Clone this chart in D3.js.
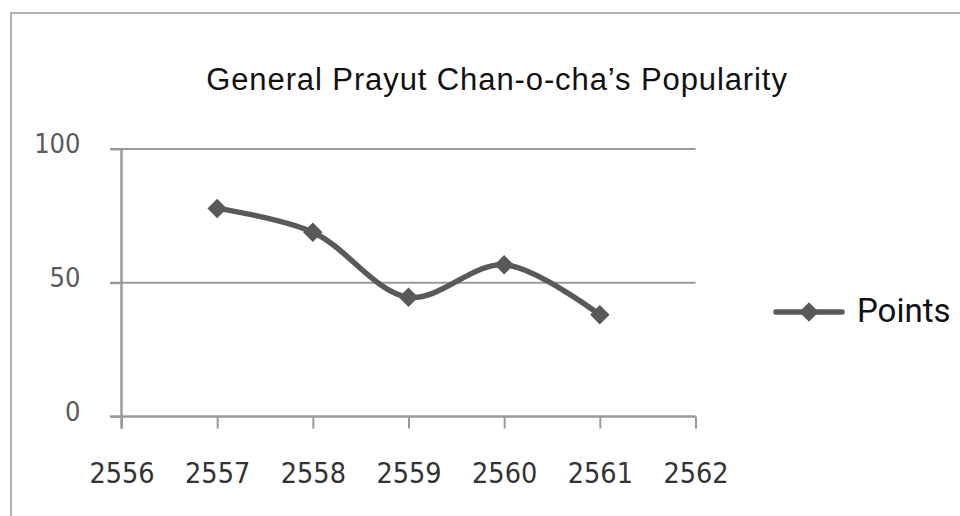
<!DOCTYPE html>
<html><head><meta charset="utf-8">
<script src="https://cdn.jsdelivr.net/npm/d3@7"></script>
<style>html,body{margin:0;padding:0;background:#fff;}svg{display:block;}</style>
</head><body>
<svg id="c" width="960" height="516"></svg>
<script>
const years = [2557, 2558, 2559, 2560, 2561];
const points = [77.8, 68.9, 44.6, 56.7, 38.0];
const xTicks = [2556, 2557, 2558, 2559, 2560, 2561, 2562];
const yTicks = [0, 50, 100];
const title = "General Prayut Chan-o-cha\u2019s Popularity";
const seriesName = "Points";

const svg = d3.select("#c");
// outer border
svg.append("path").attr("d","M11,520 L11,13 L970,13").attr("fill","none").attr("stroke","#b5b5b5").attr("stroke-width",2);

const x = d3.scaleLinear().domain([2556, 2562]).range([121.5, 695.5]);
const y = d3.scaleLinear().domain([0, 100]).range([416.5, 149]);

svg.append("text").attr("x", 497).attr("y", 90).attr("text-anchor","middle")
  .attr("font-family","Liberation Sans, Arial, sans-serif").attr("font-size", 31).attr("letter-spacing", 0.9)
  .attr("fill","#111").text(title);

// gridlines
svg.append("g").selectAll("line").data(yTicks.filter(d=>d>0)).join("line")
  .attr("x1", 110).attr("x2", 695.5).attr("y1", d=>y(d)).attr("y2", d=>y(d))
  .attr("stroke","#9a9a9a").attr("stroke-width",2);

// y axis
const ya = svg.append("g").attr("transform","translate(121.5,0)")
  .call(d3.axisLeft(y).tickValues(yTicks).tickSize(11).tickPadding(30).tickFormat(d3.format("d")));
ya.select(".domain").attr("stroke","#9a9a9a").attr("stroke-width",2.5).attr("d", `M0,${y(100)}V${y(0)+12}`);
ya.selectAll(".tick line").attr("stroke","#9a9a9a").attr("stroke-width",2);
ya.selectAll("text").attr("font-family","DejaVu Sans Condensed, sans-serif").attr("font-size",27).attr("fill","#5a5a5a")
  .attr("transform","translate(0,-5)").attr("dy","0.32em");

// x axis
const xa = svg.append("g").attr("transform",`translate(0,${y(0)})`)
  .call(d3.axisBottom(x).tickValues(xTicks).tickSize(12).tickPadding(34).tickFormat(d3.format("d")));
xa.select(".domain").attr("stroke","#9a9a9a").attr("stroke-width",2.5).attr("d", `M110,0H${x(2562)}`);
xa.selectAll(".tick line").attr("stroke","#9a9a9a").attr("stroke-width",2);
xa.selectAll("text").attr("font-family","DejaVu Sans Condensed, sans-serif").attr("font-size",28.5).attr("fill","#333");

// line
const line = d3.line().x((d,i)=>x(years[i])).y(d=>y(d)).curve(d3.curveCatmullRom.alpha(0.5));
svg.append("path").datum(points).attr("d", line).attr("fill","none").attr("stroke","#595959").attr("stroke-width",5.5).attr("stroke-linejoin","round");

const diamond = d3.symbol().type(d3.symbolSquare).size(190);
svg.append("g").selectAll("path").data(points).join("path")
  .attr("d", diamond).attr("transform",(d,i)=>`translate(${x(years[i])},${y(d)}) rotate(45)`).attr("fill","#595959");

// legend
svg.append("line").attr("x1",776).attr("x2",842).attr("y1",312).attr("y2",312).attr("stroke","#595959").attr("stroke-width",5.5).attr("stroke-linecap","round");
svg.append("path").attr("d", diamond).attr("transform","translate(809,312) rotate(45)").attr("fill","#595959");
svg.append("text").attr("x",857).attr("y",322).attr("font-family","Roboto, sans-serif").attr("font-size",33).attr("fill","#111").text(seriesName);
</script>
</body></html>
